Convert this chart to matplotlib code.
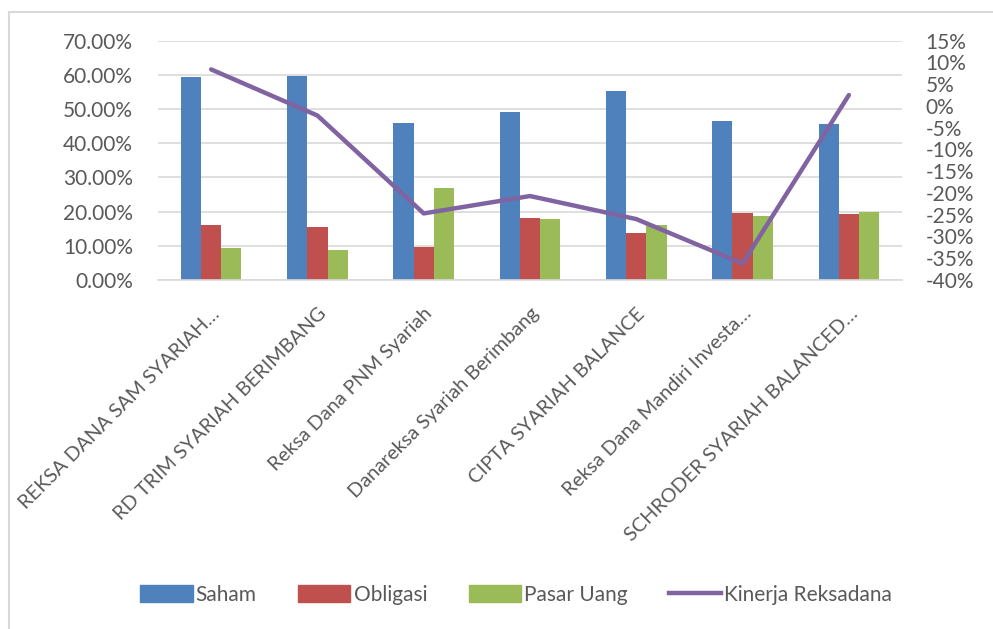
import matplotlib
matplotlib.use("Agg")
import matplotlib.pyplot as plt
import numpy as np
from matplotlib.ticker import FuncFormatter, MultipleLocator
from matplotlib.lines import Line2D
from matplotlib.patches import Patch

plt.rcParams['font.family'] = ['Lato', 'DejaVu Sans']

categories = ["REKSA DANA SAM SYARIAH…", "RD TRIM SYARIAH BERIMBANG", "Reksa Dana PNM Syariah",
              "Danareksa Syariah Berimbang", "CIPTA SYARIAH BALANCE", "Reksa Dana Mandiri Investa…",
              "SCHRODER SYARIAH BALANCED…"]
saham = [59.4, 59.7, 45.8, 49.1, 55.2, 46.5, 45.7]
obligasi = [16.2, 15.6, 9.6, 18.1, 13.7, 19.7, 19.4]
pasar_uang = [9.4, 8.9, 26.8, 17.8, 16.0, 18.8, 19.9]
kinerja = [8.4, -2.2, -24.7, -20.7, -26.0, -36.2, 2.5]

C_BLUE = "#4F81BD"
C_RED = "#C0504D"
C_GREEN = "#9BBB59"
C_PURPLE = "#8064A2"
TXT = "#595959"
GRID = "#D9D9D9"

fig = plt.figure(figsize=(9.93, 6.29), dpi=100)
ax = fig.add_axes([158/993, 1-280/629, (902-158)/993, (280-40.7)/629])
ax2 = ax.twinx()

x = np.arange(len(categories))
w = 0.19
ax.bar(x - w, saham, w, color=C_BLUE, zorder=2)
ax.bar(x, obligasi, w, color=C_RED, zorder=2)
ax.bar(x + w, pasar_uang, w, color=C_GREEN, zorder=2)
ax2.plot(x, kinerja, color=C_PURPLE, lw=3.2, solid_capstyle='round', solid_joinstyle='round')

ax.set_xlim(-0.5, len(categories) - 0.5)
ax.set_ylim(0, 70)
ax.yaxis.set_major_locator(MultipleLocator(10))
ax.yaxis.set_major_formatter(FuncFormatter(lambda v, p: f"{v:.2f}%"))
ax2.set_ylim(-40, 15)
ax2.yaxis.set_major_locator(MultipleLocator(5))
ax2.yaxis.set_major_formatter(FuncFormatter(lambda v, p: f"{v:.0f}%"))

ax.grid(axis='y', color=GRID, lw=1.2, zorder=0)
ax.set_axisbelow(True)
for a in (ax, ax2):
    for s in a.spines.values():
        s.set_visible(False)
ax.spines['bottom'].set_visible(True)
ax.spines['bottom'].set_color(GRID)
ax.spines['bottom'].set_linewidth(1.2)

ax.tick_params(axis='y', length=0, pad=18, labelsize=15, labelcolor=TXT)
ax2.tick_params(axis='y', length=0, pad=17, labelsize=15, labelcolor=TXT)
ax.set_xticks(x)
ax.set_xticklabels(categories, rotation=45, ha='right', va='top', rotation_mode='anchor',
                   fontsize=14.3, color=TXT)
ax.tick_params(axis='x', length=0, pad=18)

handles = [Patch(color=C_BLUE, label="Saham"), Patch(color=C_RED, label="Obligasi"),
           Patch(color=C_GREEN, label="Pasar Uang"),
           Line2D([0], [0], color=C_PURPLE, lw=3.2, label="Kinerja Reksadana")]
leg = fig.legend(handles=handles, loc='center', bbox_to_anchor=(0.52, 1-595/629), ncol=4,
                 frameon=False, fontsize=15, labelcolor=TXT, handlelength=2.5, handleheight=0.9,
                 handletextpad=0.15, columnspacing=2.0)

# chart border (left and top edges visible)
fig.add_artist(Line2D([9/993, 9/993], [0, 1-12/629], color=GRID, lw=1.5, transform=fig.transFigure))
fig.add_artist(Line2D([9/993, 1], [1-12/629, 1-12/629], color=GRID, lw=1.5, transform=fig.transFigure))

fig.savefig("out.png", dpi=100)
